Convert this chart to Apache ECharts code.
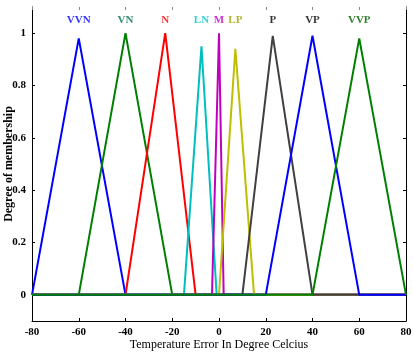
<!DOCTYPE html>
<html>
<head>
<meta charset="utf-8">
<script src="https://cdn.jsdelivr.net/npm/echarts@6/dist/echarts.min.js"></script>
<style>
  html, body { margin: 0; padding: 0; background: #fff; }
  #main { width: 413px; height: 352px; }
</style>
</head>
<body>
<div id="main"></div>
<script>
// membership function names and colours (MATLAB default-ish)
var setNames = ["VVN", "VN", "N", "LN", "M", "LP", "P", "VP", "VVP"];
var setColors = ["#0000ff", "#008000", "#ff0000", "#00bfbf", "#bf00bf", "#bfbf00", "#404040", "#0000ff", "#008000"];
var labelColors = ["#0000ff", "#007050", "#ff0000", "#00c8c8", "#bf00bf", "#a0a000", "#000000", "#000000", "#006000"];
// triangle corners: [left foot, peak, right foot]
var feet = [
  [-80, -60, -40],
  [-60, -40, -20],
  [-40, -23, -10],
  [-15, -7.5, -1],
  [-3, 0, 2],
  [0, 7, 15],
  [10, 23, 40],
  [20, 40, 60],
  [40, 60, 80]
];
var peaks = [0.98, 1.0, 1.0, 0.95, 1.0, 0.94, 0.99, 0.99, 0.98];
var yTicks = [0, 0.2, 0.4, 0.6, 0.8, 1];
var labelLevel = 1.048;

var serif = "Liberation Serif";

function triangle(i) {
  var f = feet[i];
  var pts = [];
  if (f[0] > -80) pts.push([-80, 0]);
  pts.push([f[0], 0]);
  pts.push([f[1], peaks[i]]);
  pts.push([f[2], 0]);
  if (f[2] < 80) pts.push([80, 0]);
  return pts;
}

var series = [];
for (var i = 0; i < setNames.length; i++) {
  series.push({
    name: setNames[i],
    type: "line",
    data: triangle(i),
    showSymbol: false,
    silent: true,
    lineStyle: { color: setColors[i], width: 2 },
    z: 2 + i
  });
}
// names above peaks
series.push({
  type: "scatter",
  symbolSize: 0,
  silent: true,
  data: setNames.map(function (n, i) {
    return {
      value: [feet[i][1], labelLevel],
      label: { color: labelColors[i] }
    };
  }),
  label: {
    show: true,
    position: "inside",
    fontFamily: serif,
    fontWeight: "bold",
    fontSize: 11,
    formatter: function (p) { return setNames[p.dataIndex]; }
  }
});

var chart = echarts.init(document.getElementById("main"));
chart.setOption({
  animation: false,
  backgroundColor: "#fff",
  grid: { left: 32, right: 7, top: 7, bottom: 31, outerBoundsMode: "none", containLabel: false },
  xAxis: [
    {
      type: "value",
      min: -80,
      max: 80,
      interval: 20,
      axisLine: { onZero: false, lineStyle: { color: "#000", width: 1 } },
      axisTick: { inside: true, length: 3, lineStyle: { color: "#000" } },
      splitLine: { show: false },
      axisLabel: { color: "#000", fontFamily: serif, fontWeight: "bold", fontSize: 11, margin: 6 },
      name: "Temperature Error In Degree Celcius",
      nameLocation: "middle",
      nameMoveOverlap: false,
      nameGap: 18,
      nameTextStyle: { color: "#000", fontFamily: serif, fontSize: 12 }
    },
    {
      type: "value",
      position: "top",
      min: -80,
      max: 80,
      interval: 20,
      axisLine: { show: false, onZero: false },
      axisTick: { show: true, inside: true, length: 3, lineStyle: { color: "#888" } },
      axisLabel: { show: false },
      splitLine: { show: false }
    }
  ],
  yAxis: [
    {
      type: "value",
      min: -0.1,
      max: 1.1,
      axisLine: { show: true, onZero: false, lineStyle: { color: "#000", width: 1 } },
      axisTick: { inside: true, length: 3, customValues: yTicks, lineStyle: { color: "#000" } },
      splitLine: { show: false },
      axisLabel: {
        customValues: yTicks,
        color: "#000",
        fontFamily: serif,
        fontWeight: "bold",
        fontSize: 11,
        margin: 6,
        formatter: function (v) { return String(+v.toFixed(1)); }
      },
      name: "Degree of membership",
      nameLocation: "middle",
      nameMoveOverlap: false,
      nameGap: 17,
      nameTextStyle: { color: "#000", fontFamily: serif, fontWeight: "bold", fontSize: 12 }
    },
    {
      type: "value",
      position: "right",
      min: -0.1,
      max: 1.1,
      axisLine: { show: true, onZero: false, lineStyle: { color: "#000", width: 1 } },
      axisTick: { inside: true, length: 3, customValues: yTicks, lineStyle: { color: "#000" } },
      axisLabel: { show: false },
      splitLine: { show: false }
    }
  ],
  series: series
});
</script>
</body>
</html>
